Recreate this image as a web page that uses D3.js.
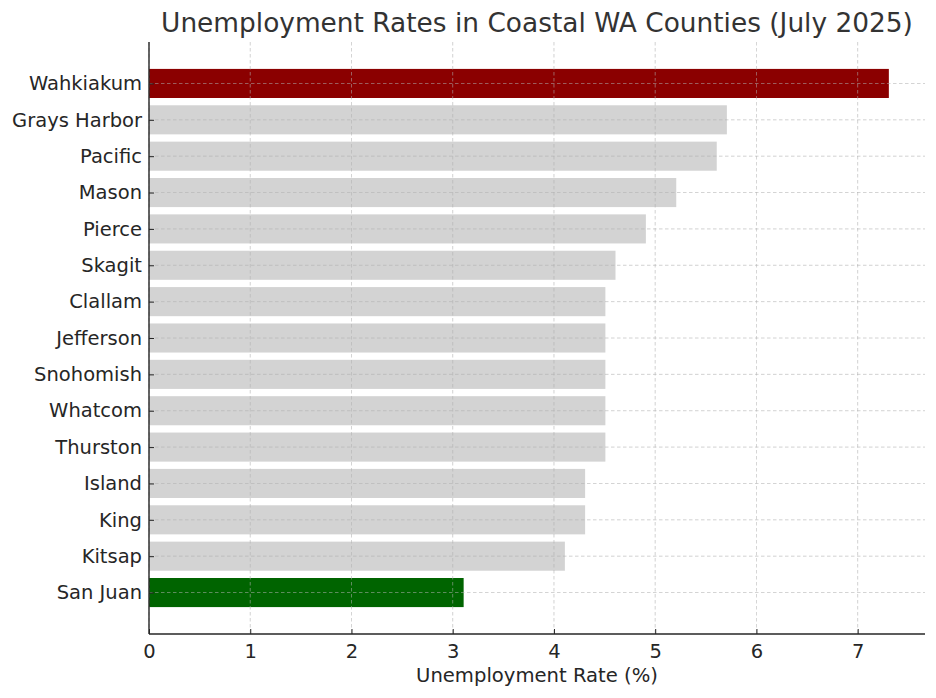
<!DOCTYPE html>
<html>
<head>
<meta charset="utf-8">
<script src="https://cdn.jsdelivr.net/npm/d3@7"></script>
<style>
  body { margin: 0; background: #fff; }
  text { font-family: "DejaVu Sans", sans-serif; fill: #262626; }
</style>
</head>
<body>
<svg id="chart" width="936" height="698"></svg>
<script>
const counties = ['Wahkiakum', 'Grays Harbor', 'Pacific', 'Mason', 'Pierce', 'Skagit', 'Clallam',
  'Jefferson', 'Snohomish', 'Whatcom', 'Thurston', 'Island', 'King', 'Kitsap', 'San Juan']
const rates = [7.3, 5.7, 5.6, 5.2, 4.9, 4.6, 4.5, 4.5, 4.5, 4.5, 4.5, 4.3, 4.3, 4.1, 3.1]
const xTicks = [0, 1, 2, 3, 4, 5, 6, 7]

const svg = d3.select('#chart')

const margin = { top: 42, right: 11, bottom: 64, left: 149 }
const width = 936 - margin.left - margin.right
const height = 698 - margin.top - margin.bottom

const g = svg.append('g').attr('transform', `translate(${margin.left},${margin.top})`)

const maxRate = d3.max(rates)
const xScale = d3.scaleLinear()
  .domain([0, maxRate * 1.05])
  .range([0, width])

// mimic matplotlib barh: index positions, bar height 0.8, 5% margins
const n = counties.length
const pad = (n - 1 + 0.8) * 0.05
const yScale = d3.scaleLinear()
  .domain([-0.4 - pad, n - 1 + 0.4 + pad])
  .range([0, height])

const colorFor = (d, i) => {
  if (d === maxRate) return '#8b0000'
  if (d === d3.min(rates)) return '#006400'
  return '#d3d3d3'
}

// bars
g.append('g')
  .selectAll('rect')
  .data(rates)
  .enter()
  .append('rect')
  .attr('x', xScale(0))
  .attr('y', (d, i) => yScale(i - 0.4))
  .attr('height', (d, i) => yScale(i + 0.4) - yScale(i - 0.4))
  .attr('width', d => xScale(d) - xScale(0) + 0.8)
  .attr('fill', colorFor)

// grid on top of bars
const grid = g.append('g').attr('class', 'grid')
grid.selectAll('line.vx')
  .data(xTicks)
  .enter()
  .append('line')
  .attr('x1', d => xScale(d)).attr('x2', d => xScale(d))
  .attr('y1', 0).attr('y2', height)
grid.selectAll('line.hy')
  .data(counties)
  .enter()
  .append('line')
  .attr('x1', 0).attr('x2', width)
  .attr('y1', (d, i) => yScale(i)).attr('y2', (d, i) => yScale(i))
grid.selectAll('line')
  .attr('stroke', '#b0b0b0')
  .attr('stroke-width', 0.8)
  .attr('stroke-dasharray', '3.5,2.5')
  .attr('opacity', 0.7)

// axes
const bottomAxis = d3.axisBottom(xScale)
  .tickValues(xTicks)
  .tickFormat(d3.format('d'))
  .tickSizeInner(-5)
  .tickSizeOuter(0)
  .tickPadding(10)

const yBand = d3.scalePoint().domain(counties).range([yScale(0), yScale(n - 1)])
const leftAxis = d3.axisLeft(yBand)
  .tickSizeInner(-5)
  .tickSizeOuter(0)
  .tickPadding(7)

const xAxisG = g.append('g')
  .attr('transform', `translate(0,${height})`)
  .call(bottomAxis)
xAxisG.select('.domain').attr('stroke', '#262626').attr('stroke-width', 1.4)
  .attr('d', `M0,0H${width}`)
xAxisG.selectAll('.tick line').attr('stroke', '#262626')
xAxisG.selectAll('.tick text').attr('font-size', 19.5).attr('fill', '#262626')
  .attr('font-family', '"DejaVu Sans", sans-serif')

const yAxisG = g.append('g').call(leftAxis)
yAxisG.select('.domain').attr('stroke', '#262626').attr('stroke-width', 1.4)
  .attr('d', `M0,0V${height}`)
yAxisG.selectAll('.tick line').attr('stroke', '#262626')
yAxisG.selectAll('.tick text').attr('font-size', 19.5).attr('fill', '#262626')
  .attr('font-family', '"DejaVu Sans", sans-serif')

// title and label
svg.append('text')
  .text('Unemployment Rates in Coastal WA Counties (July 2025)')
  .attr('x', margin.left + width / 2)
  .attr('y', 32)
  .attr('text-anchor', 'middle')
  .attr('font-size', 26.4)
  .style('fill', '#333')

svg.append('text')
  .text('Unemployment Rate (%)')
  .attr('x', margin.left + width / 2)
  .attr('y', 682)
  .attr('text-anchor', 'middle')
  .attr('font-size', 19.6)
</script>
</body>
</html>
